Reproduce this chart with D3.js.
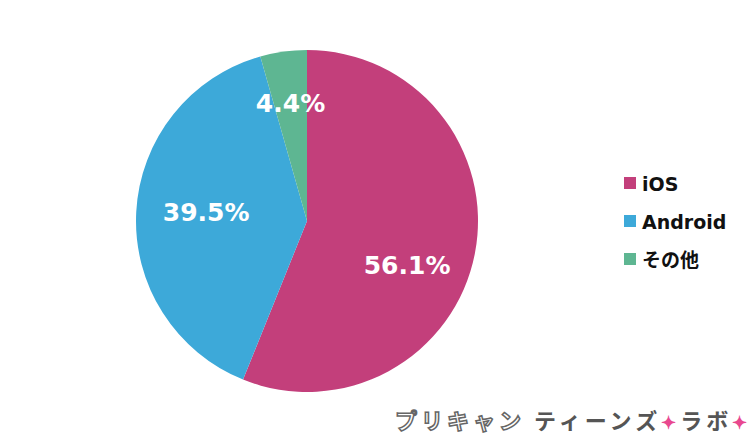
<!DOCTYPE html>
<html><head><meta charset="utf-8">
<script src="https://cdn.jsdelivr.net/npm/d3@7"></script>
<style>body{margin:0;background:#fff}svg{display:block}</style>
</head><body>
<svg id="c" width="750" height="443"></svg>
<script>
const categories = ["iOS", "Android", "その他"];
const values = [56.1, 39.5, 4.4];
const colors = ["#C33F7B", "#3DA9D9", "#5EB692"];
const labelNudge = [[-3, 25], [4, -3], [-2, -14]];

const svg = d3.select("#c");
const cx = 307, cy = 221, R = 171;
const g = svg.append("g").attr("transform", `translate(${cx},${cy})`);
const pie = d3.pie().sort(null).value(d => d)(values);
const arc = d3.arc().innerRadius(0).outerRadius(R);
g.selectAll("path").data(pie).join("path")
  .attr("d", arc).attr("fill", (d, i) => colors[i]);

const labelArc = d3.arc().innerRadius(105).outerRadius(105);
g.selectAll("text.lbl").data(pie).join("text")
  .attr("class", "lbl")
  .attr("transform", (d, i) => {
    const c = labelArc.centroid(d);
    return `translate(${c[0] + labelNudge[i][0]},${c[1] + labelNudge[i][1]})`;
  })
  .attr("text-anchor", "middle").attr("dominant-baseline", "central")
  .attr("fill", "#fff").attr("font-family", "DejaVu Sans, Verdana, sans-serif")
  .attr("font-weight", "bold").attr("font-size", 25)
  .text(d => d.data.toFixed(1) + "%");

const legend = svg.append("g").attr("transform", "translate(624,183)");
const ly = d3.scalePoint().domain(categories).range([0, 76]);
categories.forEach((c, i) => {
  legend.append("rect").attr("x", 0).attr("y", ly(c) - 6).attr("width", 12).attr("height", 12).attr("fill", colors[i]);
  legend.append("text").attr("x", 18).attr("y", ly(c) + 1).attr("dominant-baseline", "central")
    .attr("font-family", "DejaVu Sans, Verdana, 'Noto Sans CJK JP', sans-serif")
    .attr("font-weight", "bold").attr("font-size", 19).attr("fill", "#111").text(c);
});

// watermark
const wm = svg.append("text").attr("x", 395).attr("y", 429)
  .attr("font-family", "'Noto Sans CJK JP', sans-serif").attr("font-weight", "bold")
  .attr("font-size", 22).attr("letter-spacing", 4);
wm.append("tspan").text("プリキャン").attr("fill", "#fff").attr("stroke", "#666").attr("stroke-width", 1.5);
wm.append("tspan").text(" ティーンズ").attr("fill", "#555");
wm.append("tspan").text("✦").attr("fill", "#E8488F").attr("font-size", 18);
wm.append("tspan").text("ラボ").attr("fill", "#555");
wm.append("tspan").text("✦").attr("fill", "#E8488F").attr("font-size", 18);
</script>
</body></html>
